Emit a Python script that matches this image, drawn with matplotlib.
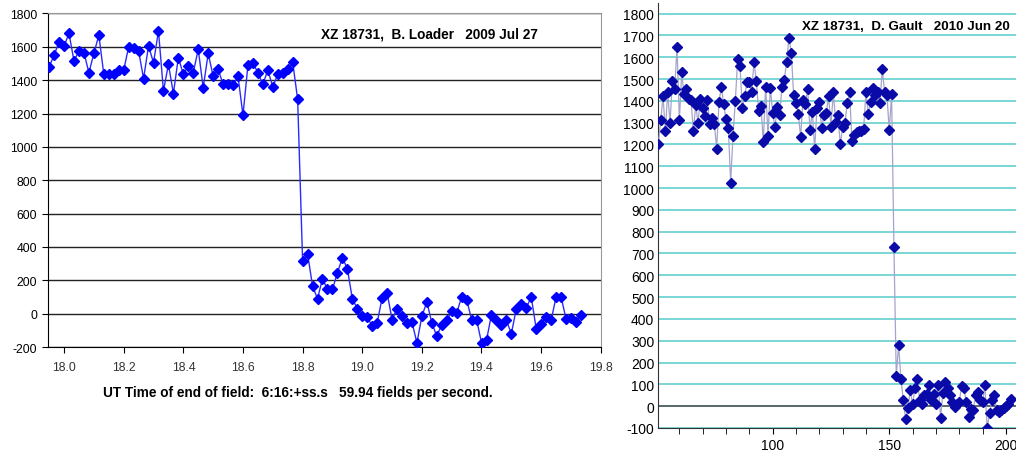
import numpy as np
import matplotlib
matplotlib.use("Agg")
import matplotlib.pyplot as plt
from matplotlib.ticker import MultipleLocator

plt.rcParams['font.family'] = ['Liberation Sans', 'DejaVu Sans']
plt.rcParams['axes.unicode_minus'] = False

# left chart: B. Loader, one point per field at 59.94 fields per second
loader_fps = 59.94
loader_t0 = 17.949
loader_vals = [1480, 1550, 1630, 1605, 1680, 1515, 1575, 1565, 1445, 1560,
               1670, 1435, 1435, 1435, 1460, 1460, 1600, 1590, 1575, 1410,
               1605, 1505, 1695, 1335, 1495, 1320, 1535, 1435, 1485, 1445,
               1585, 1355, 1560, 1425, 1465, 1375, 1375, 1370, 1425, 1190,
               1490, 1505, 1445, 1375, 1460, 1360, 1435, 1445, 1465, 1510,
               1285, 315, 360, 165, 90, 210, 145, 145, 245, 335,
               270, 90, 30, -15, -20, -75, -55, 95, 125, -35,
               30, -15, -55, -50, -175, -15, 70, -55, -135, -65,
               -40, 15, 5, 100, 85, -35, -35, -175, -160, -5,
               -40, -70, -40, -120, 30, 60, 35, 100, -90, -60,
               -20, -40, 100, 100, -30, -25, -50, -5]
loader_title = "XZ 18731,  B. Loader   2009 Jul 27"
loader_xlabel = "UT Time of end of field:  6:16:+ss.s   59.94 fields per second."

# right chart: D. Gault, values against frame number
gault_first = 51
gault_vals = [1200, 1310, 1420, 1260, 1440, 1300, 1490, 1455, 1645, 1310,
              1530, 1430, 1455, 1410, 1405, 1260, 1380, 1300, 1410, 1365,
              1330, 1405, 1295, 1320, 1295, 1180, 1395, 1465, 1385, 1315,
              1275, 1025, 1240, 1400, 1590, 1560, 1365, 1420, 1485, 1485,
              1440, 1580, 1490, 1355, 1375, 1210, 1465, 1240, 1460, 1345,
              1280, 1370, 1335, 1465, 1495, 1580, 1690, 1620, 1425, 1390,
              1340, 1235, 1405, 1385, 1455, 1265, 1350, 1180, 1365, 1395,
              1275, 1335, 1345, 1420, 1280, 1440, 1305, 1335, 1200, 1280,
              1300, 1390, 1440, 1215, 1245, 1255, 1260, 1260, 1270, 1440,
              1340, 1395, 1460, 1425, 1440, 1390, 1545, 1440, 1425, 1265,
              1430, 730, 140, 280, 126, 30, -60, -8, 73, 8,
              83, 126, 27, 8, 50, 58, 95, 30, 58, 9,
              98, -53, 62, 111, 85, 53, 20, -3, 12, 20,
              91, 83, 20, -48, -15, -18, 53, 65, 27, 20,
              95, -102, -30, 27, 53, -18, -26, -18, -8, 0,
              12, 32]
gault_title = "XZ 18731,  D. Gault   2010 Jun 20"

loader_t = loader_t0 + np.arange(len(loader_vals)) / loader_fps
gault_x = gault_first + np.arange(len(gault_vals))

fig = plt.figure(figsize=(10.16, 4.52), dpi=100)

# ---- left panel
ax1 = fig.add_axes([0.0469, 0.230, 0.5442, 0.738])
ax1.plot(loader_t, loader_vals, color='#2a2aff', lw=1.0, marker='D',
         markersize=5, markerfacecolor='#0000ff', markeredgecolor='#0000ff', zorder=3)
ax1.set_xlim(17.944, 19.8)
ax1.set_ylim(-200, 1800)
ax1.set_yticks(np.arange(-200, 1801, 200))
ax1.set_xticks(np.arange(18.0, 19.81, 0.2))
ax1.set_xticklabels([f"{v:.1f}" for v in np.arange(18.0, 19.81, 0.2)], color='#333333')
ax1.grid(axis='y', color='#222222', lw=1.0)
ax1.set_axisbelow(True)
for s in ['top', 'right']:
    ax1.spines[s].set_color('#999999')
ax1.spines['left'].set_color('black')
ax1.spines['bottom'].set_color('black')
ax1.tick_params(axis='both', labelsize=8.8, length=4, direction='out')
ax1.tick_params(axis='x', pad=6)
ax1.text(19.225, 1680, loader_title, ha='center', va='center',
         fontsize=9.8, fontweight='bold')
fig.text(0.2933, 0.130, loader_xlabel, ha='center', va='center',
         fontsize=9.8, fontweight='bold')

# ---- right panel (cut off at the figure edge)
ax2 = fig.add_axes([0.648, 0.0509, 0.365, 0.941])
ax2.plot(gault_x, gault_vals, color='#a4a4cc', lw=0.9, marker='D',
         markersize=5.5, markerfacecolor='#0a0aa8', markeredgecolor='#0a0aa8', zorder=3)
ax2.set_xlim(51, 210)
ax2.set_ylim(-100, 1850)
ax2.set_yticks(np.arange(-100, 1801, 100))
ax2.xaxis.set_major_locator(MultipleLocator(50))
ax2.xaxis.set_minor_locator(MultipleLocator(10))
ax2.grid(axis='y', color='#6fd3d3', lw=1.3)
ax2.axhline(0, color='#555555', lw=1.2, zorder=2)
ax2.set_axisbelow(True)
for s in ['top', 'right']:
    ax2.spines[s].set_visible(False)
ax2.spines['left'].set_color('#333333')
ax2.spines['bottom'].set_color('#333333')
ax2.tick_params(axis='y', length=0, pad=3)
ax2.tick_params(axis='x', which='both', length=4, direction='out')
for lab in ax2.get_xticklabels() + ax2.get_yticklabels():
    lab.set_family(['Liberation Sans Narrow', 'Liberation Sans'])
    lab.set_fontsize(10)
ax2.text(112.5, 1744, gault_title, ha='left', va='center',
         fontsize=9.6, fontweight='bold')

fig.savefig("out.png", dpi=100)
